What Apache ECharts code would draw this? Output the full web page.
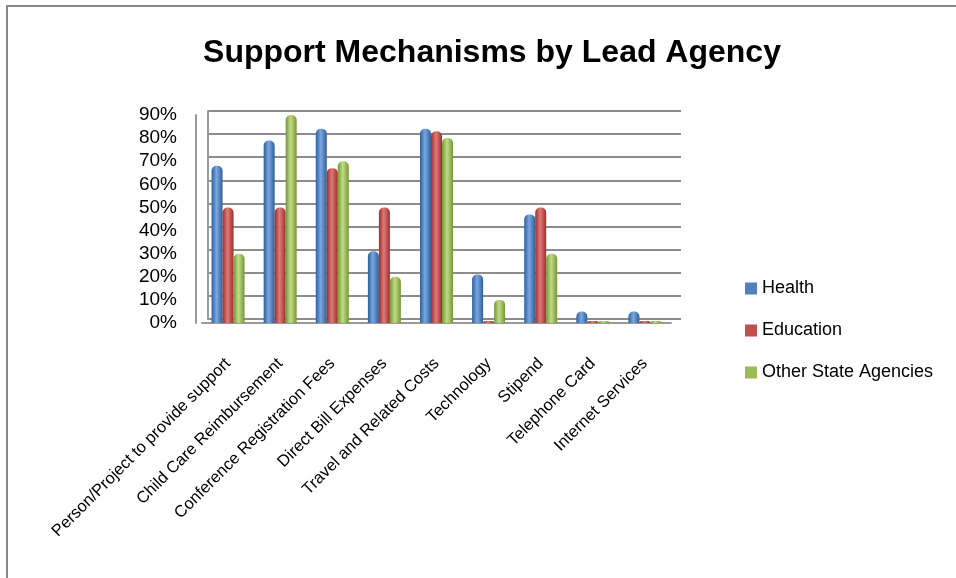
<!DOCTYPE html>
<html>
<head>
<meta charset="utf-8">
<script src="https://cdn.jsdelivr.net/npm/echarts@6/dist/echarts.min.js"></script>
<style>
html,body{margin:0;padding:0;background:#fff;}
#wrap{position:relative;width:956px;height:578px;overflow:hidden;}
#frame{position:absolute;left:6px;top:5px;width:960px;height:600px;border-left:2px solid #888;border-top:2px solid #888;box-sizing:border-box;pointer-events:none;}
#chart{position:absolute;left:0;top:0;width:956px;height:578px;}
</style>
</head>
<body>
<div id="wrap"><div id="chart"></div><div id="frame"></div></div>
<script>
var categories = ["Person/Project to provide support","Child Care Reimbursement","Conference Registration Fees","Direct Bill Expenses","Travel and Related Costs","Technology","Stipend","Telephone Card","Internet Services"];
var seriesNames = ["Health","Education","Other State Agencies"];
var health = [68,79,84,31,84,21,47,5,5];
var education = [50,50,67,50,83,0,50,0,0];
var otherState = [30,90,70,20,80,10,30,0,0];
var yTicks = [0,10,20,30,40,50,60,70,80,90];

var baseColors = ["#4F81BD","#C0504D","#9BBB59"];
var darkColors = ["#2f5f9a","#9b2f2c","#76963a"];
var lightColors = ["#7aa7e0","#e07a77","#c0dc84"];

function grad(i){
  return new echarts.graphic.LinearGradient(0,0,1,0,[
    {offset:0,color:darkColors[i]},
    {offset:0.45,color:lightColors[i]},
    {offset:1,color:darkColors[i]}
  ]);
}
var chart = echarts.init(document.getElementById('chart'));
var font = "'Liberation Sans', Arial, sans-serif";
var dataArr = [health, education, otherState];
var series = dataArr.map(function(d,i){
  return {
    name: seriesNames[i], type:'bar', xAxisIndex:1, yAxisIndex:1,
    data: d, barWidth: 11, barGap: '0%', barMinHeight: 2,
    itemStyle:{color:grad(i), borderRadius:[5,5,0,0]},
    emphasis:{disabled:true}
  };
});
series.push({type:'bar', xAxisIndex:0, yAxisIndex:0, data:[], silent:true});
chart.setOption({
  animation:false,
  backgroundColor:'#fff',
  title:{text:'Support Mechanisms by Lead Agency', left:487, textAlign:'center', top:32,
    textStyle:{fontFamily:font, fontWeight:'bold', fontSize:32, color:'#000'}},
  legend:{orient:'vertical', left:740, top:273, itemWidth:12, itemHeight:12, icon:'rect', itemGap:21,
    textStyle:{fontFamily:font, fontSize:18, color:'#000', lineHeight:21},
    data: seriesNames.map(function(n,i){return {name:n, itemStyle:{color:baseColors[i]}};})},
  grid:[
    {left:208, right:275, top:111, bottom:259},
    {left:202, right:285, top:115, bottom:255}
  ],
  xAxis:[
    {type:'category', gridIndex:0, data:categories, show:true, axisLine:{show:false}, axisTick:{show:false}, axisLabel:{show:false}},
    {type:'category', gridIndex:1, data:categories,
      axisLine:{show:true, lineStyle:{color:'#999', width:2}}, axisTick:{show:false},
      axisLabel:{rotate:45, interval:0, margin:38, fontFamily:font, fontSize:16.5, color:'#000'}}
  ],
  yAxis:[
    {type:'value', gridIndex:0, min:0, max:90, interval:10,
      axisLine:{show:true, lineStyle:{color:'#999', width:2}}, axisTick:{show:false}, axisLabel:{show:false},
      splitLine:{show:true, lineStyle:{color:'#8c8c8c', width:2}}},
    {type:'value', gridIndex:1, min:0, max:90, interval:10, offset:6,
      axisLine:{show:true, lineStyle:{color:'#999', width:2}}, axisTick:{show:false},
      splitLine:{show:false},
      axisLabel:{margin:19, fontFamily:font, fontSize:19, color:'#000',
        formatter:function(v){ return yTicks.indexOf(v) >= 0 ? v + '%' : ''; }}}
  ],
  series: series
});
</script>
</body>
</html>
